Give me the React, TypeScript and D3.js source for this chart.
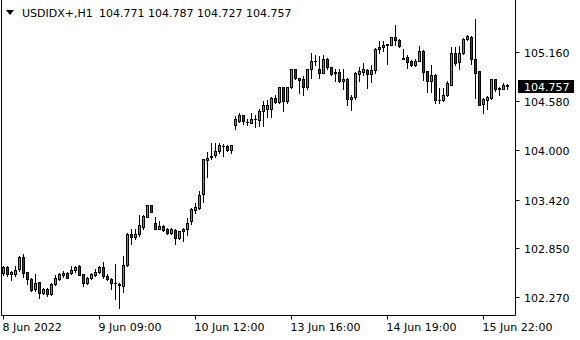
import React from 'react';
import * as d3 from 'd3';

const SYMBOL = 'USDIDX+,H1';
const OPEN = [102.551,102.626,102.544,102.544,102.595,102.736,102.559,102.485,102.362,102.449,102.315,102.367,102.308,102.418,102.488,102.527,102.556,102.551,102.583,102.630,102.536,102.433,102.497,102.527,102.567,102.618,102.512,102.485,102.432,102.415,102.402,102.650,103.019,102.980,103.019,103.090,103.216,103.350,103.146,103.074,103.109,103.067,103.027,103.058,102.969,103.043,103.067,103.161,103.294,103.318,103.483,103.885,103.923,103.940,103.995,104.050,104.050,104.002,104.294,104.349,104.412,104.338,104.325,104.370,104.361,104.459,104.483,104.483,104.620,104.569,104.750,104.585,104.750,104.955,104.856,104.837,104.742,104.955,105.052,104.963,104.915,105.081,104.978,104.925,104.922,104.813,104.844,104.609,104.624,104.899,104.922,104.946,104.899,104.946,105.199,105.214,105.250,105.246,105.340,105.305,105.086,105.104,105.057,105.010,105.057,105.175,104.930,104.821,104.891,104.592,104.593,104.656,104.774,105.152,105.041,105.143,105.313,105.340,105.081,104.930,104.545,104.593,104.616,104.837,104.727,104.727,104.771];
const HIGH = [102.638,102.630,102.574,102.630,102.751,102.780,102.562,102.497,102.544,102.452,102.379,102.379,102.441,102.524,102.551,102.579,102.565,102.633,102.638,102.642,102.539,102.504,102.551,102.598,102.633,102.681,102.536,102.497,102.654,102.438,102.756,103.028,103.067,103.078,103.232,103.232,103.358,103.358,103.209,103.161,103.114,103.082,103.082,103.067,103.051,103.082,103.200,103.318,103.382,103.515,103.895,103.979,104.090,104.090,104.090,104.073,104.066,104.066,104.403,104.435,104.419,104.365,104.444,104.412,104.483,104.585,104.592,104.624,104.648,104.752,104.752,104.752,104.963,104.963,104.858,104.875,104.963,105.143,105.120,105.111,105.120,105.092,104.986,104.963,104.955,104.963,104.852,104.656,104.922,104.986,105.034,104.963,105.002,105.206,105.293,105.285,105.250,105.342,105.474,105.313,105.191,105.120,105.065,105.074,105.230,105.183,104.938,105.010,104.899,104.734,104.734,104.813,105.222,105.222,105.230,105.321,105.360,105.348,105.553,104.938,104.616,104.640,104.844,104.844,104.750,104.789,104.787];
const LOW = [102.535,102.520,102.473,102.512,102.574,102.504,102.426,102.338,102.338,102.261,102.300,102.284,102.291,102.409,102.473,102.504,102.495,102.536,102.567,102.527,102.397,102.426,102.480,102.512,102.551,102.497,102.465,102.370,102.252,102.143,102.331,102.633,102.890,102.957,102.987,103.074,103.211,103.271,103.067,103.067,103.046,103.011,103.015,102.893,102.949,102.926,102.996,103.129,103.263,103.303,103.389,103.680,103.893,103.925,103.963,103.931,103.987,103.971,104.255,104.333,104.309,104.302,104.317,104.278,104.285,104.285,104.396,104.396,104.561,104.561,104.467,104.553,104.734,104.837,104.671,104.648,104.726,104.852,105.002,104.852,104.907,104.963,104.891,104.813,104.805,104.726,104.530,104.474,104.609,104.821,104.891,104.734,104.805,104.915,105.143,105.167,105.017,105.238,105.246,105.222,105.074,104.970,104.994,104.994,105.049,104.829,104.687,104.687,104.553,104.561,104.585,104.640,104.765,105.010,104.963,105.135,105.305,105.017,104.616,104.530,104.444,104.483,104.600,104.703,104.648,104.719,104.727];
const CLOSE = [102.621,102.547,102.563,102.591,102.740,102.551,102.485,102.355,102.438,102.315,102.367,102.300,102.426,102.497,102.536,102.556,102.497,102.591,102.622,102.532,102.433,102.497,102.536,102.567,102.618,102.512,102.480,102.438,102.430,102.418,102.650,103.016,102.980,103.019,103.114,103.220,103.350,103.275,103.074,103.105,103.058,103.027,103.067,102.969,103.043,103.067,103.146,103.303,103.326,103.476,103.893,103.913,103.935,103.995,104.058,104.054,104.002,104.058,104.365,104.412,104.341,104.336,104.365,104.367,104.465,104.530,104.538,104.616,104.569,104.750,104.577,104.750,104.955,104.852,104.829,104.750,104.955,105.057,105.058,104.907,105.081,104.978,104.899,104.918,104.813,104.844,104.609,104.632,104.915,104.930,104.963,104.899,104.946,105.199,105.214,105.238,105.240,105.340,105.300,105.230,105.082,105.041,105.002,105.057,105.175,104.922,104.821,104.883,104.593,104.599,104.656,104.789,105.152,105.034,105.152,105.313,105.344,105.074,104.915,104.538,104.600,104.624,104.837,104.719,104.730,104.774,104.757];

const X_TICK_INDEX = [0, 24, 48, 72, 96, 120];
const X_TICK_LABELS = ['8 Jun 2022', '9 Jun 09:00', '10 Jun 12:00', '13 Jun 16:00', '14 Jun 19:00', '15 Jun 22:00'];
const Y_TICKS = [105.16, 104.58, 104.0, 103.42, 102.85, 102.27];

const FONT = "Tahoma, 'DejaVu Sans', sans-serif";
const BULL = '#00e000';
const BEAR = '#d00000';

export default function App() {
  const W = 580, H = 340;
  const n = OPEN.length;
  const x = d3.scaleBand<number>().domain(d3.range(n)).range([1.5, 1.5 + 4 * n]);
  const y = d3.scaleLinear().domain([102.27, 105.16]).range([297.5, 52.5]);
  const cx = (i: number) => (x(i) as number) + x.bandwidth() / 2;
  const snap = (v: number) => Math.round(v - 0.5) + 0.5;
  const plotRight = 515.5, plotBottom = 315.5, plotLeft = 1.5;
  const last = n - 1;
  const lastY = snap(y(CLOSE[last]));
  const fmt = (v: number) => v.toFixed(3);

  return (
    <svg width={W} height={H} style={{ position: 'absolute', left: 0, top: 0, background: '#fff' }} fontFamily={FONT}>
      <rect x={0} y={0} width={W} height={H} fill="#fff" />
      {/* frame */}
      <line x1={plotLeft} y1={0} x2={plotLeft} y2={plotBottom} stroke="#000" />
      <line x1={plotRight} y1={0} x2={plotRight} y2={plotBottom} stroke="#000" />
      <line x1={plotLeft} y1={plotBottom} x2={plotRight} y2={plotBottom} stroke="#000" />

      {/* candles */}
      {d3.range(n).map((i) => {
        const c = cx(i);
        const o = OPEN[i], cl = CLOSE[i];
        const top = snap(y(Math.max(o, cl)));
        const bot = snap(y(Math.min(o, cl)));
        const hi = snap(y(HIGH[i]));
        const lo = snap(y(LOW[i]));
        const fill = cl >= o ? BULL : BEAR;
        return (
          <g key={i}>
            <line x1={c} x2={c} y1={hi - 0.5} y2={lo + 0.5} stroke="#000" />
            {bot - top < 1 ? (
              <line x1={c - 1.5} x2={c + 1.5} y1={top} y2={top} stroke="#000" />
            ) : (
              <rect x={c - 1} y={top} width={2} height={bot - top} fill={fill} stroke="#000" />
            )}
          </g>
        );
      })}

      {/* y axis */}
      {Y_TICKS.map((v) => {
        const yy = snap(y(v));
        return (
          <g key={v}>
            <line x1={plotRight} x2={plotRight + 4} y1={yy} y2={yy} stroke="#000" />
            <text x={524} y={yy + 4} fontSize={11} fill="#000">{fmt(v)}</text>
          </g>
        );
      })}

      {/* current price label */}
      <rect x={518} y={lastY - 6.5} width={56} height={13} fill="#000" />
      <text x={524} y={lastY + 4} fontSize={11} fill="#fff">{fmt(CLOSE[last])}</text>

      {/* x axis */}
      {X_TICK_INDEX.map((idx, k) => {
        const xx = cx(idx);
        return (
          <g key={idx}>
            <line x1={xx} x2={xx} y1={plotBottom} y2={plotBottom + 4} stroke="#000" />
            <text x={xx - 1} y={331} fontSize={11} fill="#000">{X_TICK_LABELS[k]}</text>
          </g>
        );
      })}

      {/* header */}
      <path d="M6,10 L14,10 L10,15 Z" fill="#000" />
      <text x={22} y={17} fontSize={11} fill="#000">{SYMBOL}</text>
      <text x={99} y={17} fontSize={11} fill="#000">
        {[OPEN[last], HIGH[last], LOW[last], CLOSE[last]].map(fmt).join(' ')}
      </text>
    </svg>
  );
}
